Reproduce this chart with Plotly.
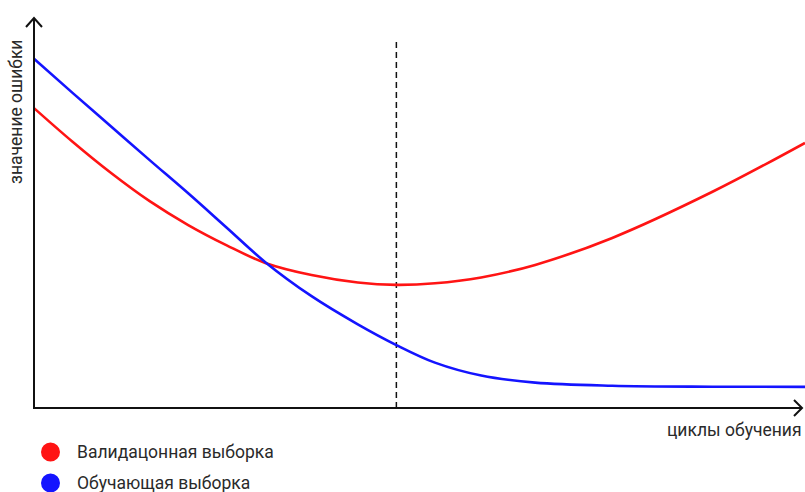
import plotly.graph_objects as go

# Training cycles (x) and error values (y) for both curves
cycles = [0, 5, 10, 15, 20, 25, 30, 36, 42, 47, 52, 58, 65, 75, 88, 100]
val_error = [76.7, 68.1, 60.1, 52.9, 46.8, 41.6, 37.1, 34.0, 32.1, 31.5, 31.9, 33.4, 36.6, 43.5, 55.3, 67.8]
train_error = [89.3, 80.6, 72.0, 63.4, 54.9, 46.1, 37.3, 28.6, 21.4, 16.1, 11.6, 8.3, 6.5, 5.7, 5.45, 5.4]

# Point where validation error is lowest (early-stopping marker)
stop_cycle = 47
stop_top = 94.6

series_names = ["Валидацонная выборка", "Обучающая выборка"]
series_colors = ["#ff1414", "#1414ff"]
x_title = "циклы обучения"
y_title = "значение ошибки"

W, H = 805, 492
L, R, T, B = 34, 0, 17, 84

fig = go.Figure()
fig.add_trace(go.Scatter(x=cycles, y=val_error, mode="lines",
                         line=dict(color=series_colors[0], width=2.6, shape="spline", smoothing=1.0),
                         name=series_names[0], showlegend=False, hoverinfo="skip"))
fig.add_trace(go.Scatter(x=cycles, y=train_error, mode="lines",
                         line=dict(color=series_colors[1], width=2.6, shape="spline", smoothing=1.0),
                         name=series_names[1], showlegend=False, hoverinfo="skip"))

shapes = []
# dashed vertical line at the optimum
shapes.append(dict(type="line", xref="x", yref="y", x0=stop_cycle, x1=stop_cycle, y0=0, y1=stop_top,
                   line=dict(color="#111111", width=1.5, dash="6px,4px"), layer="below"))

# axes with open arrowheads, in pixel-based paper coordinates
def px(xp):
    return (xp - L) / (W - L - R)

def py(yp):
    return (H - B - yp) / (H - T - B)

ax_col = "#111111"
x0p, y0p = 34, 408
shapes.append(dict(type="line", xref="paper", yref="paper", x0=px(x0p), x1=px(x0p), y0=py(y0p + 1), y1=py(18),
                   line=dict(color=ax_col, width=2)))
shapes.append(dict(type="path", xref="paper", yref="paper",
                   path=f"M {px(26)},{py(27)} L {px(34)},{py(18)} L {px(42)},{py(27)}",
                   line=dict(color=ax_col, width=2)))
shapes.append(dict(type="line", xref="paper", yref="paper", x0=px(x0p - 1), x1=px(802), y0=py(y0p), y1=py(y0p),
                   line=dict(color=ax_col, width=2)))
shapes.append(dict(type="path", xref="paper", yref="paper",
                   path=f"M {px(794)},{py(400)} L {px(802)},{py(408)} L {px(794)},{py(416)}",
                   line=dict(color=ax_col, width=2)))

# legend dots
for cy, col in [(452, series_colors[0]), (483, series_colors[1])]:
    r = 9.5
    shapes.append(dict(type="circle", xref="paper", yref="paper",
                       x0=px(50.5 - r), x1=px(50.5 + r), y0=py(cy + r), y1=py(cy - r),
                       fillcolor=col, line=dict(width=0)))

font = dict(family="Roboto, Arial, sans-serif", color="#2a2a2a")
annotations = [
    dict(text=series_names[0], xref="paper", yref="paper", x=px(75), y=py(452), xanchor="left", yanchor="middle",
         showarrow=False, font=dict(size=17.5, **font)),
    dict(text=series_names[1], xref="paper", yref="paper", x=px(75), y=py(483), xanchor="left", yanchor="middle",
         showarrow=False, font=dict(size=17.5, **font)),
    dict(text=x_title, xref="paper", yref="paper", x=px(804), y=py(430), xanchor="right", yanchor="middle",
         showarrow=False, font=dict(size=17.5, **font)),
    dict(text=y_title, xref="paper", yref="paper", x=px(16), y=py(112), xanchor="center", yanchor="middle",
         textangle=-90, showarrow=False, font=dict(size=17.5, **font)),
]

fig.update_layout(
    width=W, height=H,
    margin=dict(l=L, r=R, t=T, b=B, autoexpand=False),
    paper_bgcolor="white", plot_bgcolor="white",
    xaxis=dict(range=[0, 100], visible=False, fixedrange=True),
    yaxis=dict(range=[0, 100], visible=False, fixedrange=True),
    shapes=shapes, annotations=annotations,
)

fig.write_html("out.html", config={"displayModeBar": False})
